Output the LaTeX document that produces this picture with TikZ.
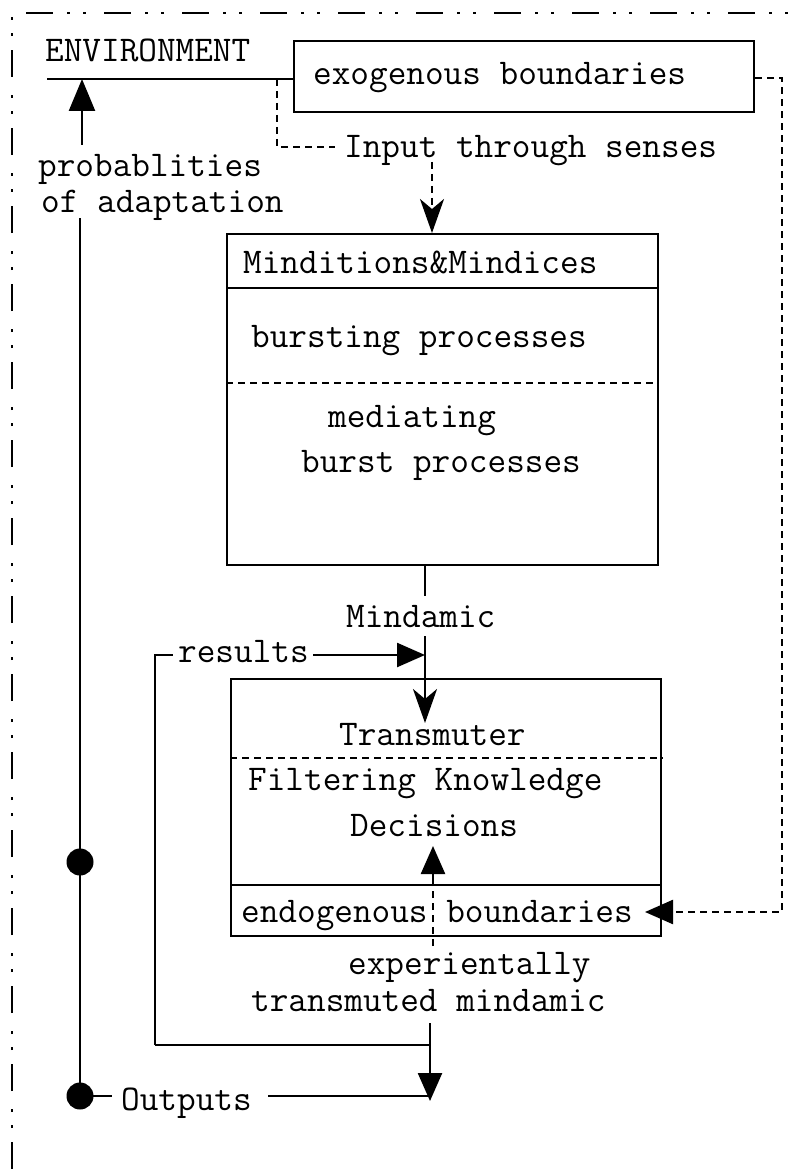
\documentclass[tikz,border=0pt]{standalone}
\usepackage{fontspec}
\usetikzlibrary{arrows.meta}
\begin{document}
\begin{tikzpicture}[x=1pt,y=-1pt,line width=2.4pt,
  txt/.style={anchor=base west,inner sep=0pt,font=\ttfamily\fontsize{36.2}{40}\selectfont},
  boxnode/.style={draw,line width=2.4pt,inner sep=0pt,anchor=north west},
  dsh/.style={dash pattern=on 7pt off 5pt},
  framestyle/.style={line width=2.4pt,dash pattern=on 27pt off 14pt on 3pt off 13pt on 3pt off 18pt},
  tri/.style={-{Triangle[length=32pt,width=26pt]}},
  trismall/.style={-{Triangle[length=28pt,width=24pt]}},
  stl/.style={-{Stealth[length=34pt,width=24pt,inset=10pt]}},
  dot/.style={circle,fill=black,minimum size=27pt,inner sep=0pt}
]
\useasboundingbox (0,0) rectangle (799,1169);

% outer frame
\coordinate (frTR) at (799,13);
\coordinate (frTL) at (12,13);
\coordinate (frBL) at (12,1169);
\draw[framestyle] (frBL) -- (frTL) -- (frTR);

% boxes
\node[boxnode,minimum width=460pt,minimum height=71pt] (exo) at (293,40) {};
\node[boxnode,minimum width=431pt,minimum height=331pt] (mind) at (226,233) {};
\node[boxnode,minimum width=430pt,minimum height=257pt] (trans) at (230,678) {};

% dividers
\draw (mind.west |- 0,288) -- (mind.east |- 0,288);
\draw[dsh] (mind.west |- 0,383) -- (mind.east |- 0,383);
\draw[dsh] (trans.west |- 0,758) -- (trans.east |- 0,758);
\draw (trans.west |- 0,885) -- (trans.east |- 0,885);

% texts
\node[txt] (env) at (44,62) {ENVIRONMENT};
\node[txt] (exot) at (312,85) {exogenous boundaries};
\node[txt] (input) at (343,158) {Input through senses};
\node[txt] (prob1) at (37,177) {probablities};
\node[txt] (prob2) at (40,212) {of adaptation};
\node[txt] (mindt) at (242,273) {Minditions\&Mindices};
\node[txt] (burst) at (250,347) {bursting processes};
\node[txt] (medi) at (327,427) {mediating};
\node[txt] (bp) at (300,472) {burst processes};
\node[txt] (mindamic) at (345,627) {Mindamic};
\node[txt] (results) at (177,662) {results};
\node[txt] (transt) at (338,745) {Transmuter};
\node[txt] (filt) at (247,790) {Filtering Knowledge};
\node[txt] (dec) at (349,836) {Decisions};
\node[txt] (endo) at (240,922) {endogenous boundaries};
\node[txt] (exper) at (347,974) {experientally};
\node[txt] (transm) at (250,1011) {transmuted mindamic};
\node[txt] (outputs) at (120,1110) {Outputs};

% dots
\node[dot] (dotA) at (80,862) {};
\node[dot] (dotB) at (80,1096) {};

% environment line and probability arrow
\coordinate (envL) at (47,79);
\draw (envL) -- (exo.west |- envL);
\coordinate (pa) at (82,145);
\draw[tri] (pa) -- (pa |- envL);

% left vertical line
\coordinate (vtop) at (80,218);
\draw (vtop) -- (dotA.center) -- (dotB.center);

% input dashed path
\coordinate (d1) at (277,79);
\coordinate (d2) at (277,147);
\coordinate (d3) at (335,147);
\draw[dsh] (d1) -- (d2) -- (d3);
\coordinate (ia) at (432,162);
\draw[dsh,stl] (ia) -- (ia |- mind.north);

% right dashed feedback to endogenous boundaries
\coordinate (r1) at (782,78);
\coordinate (r2) at (782,912);
\coordinate (r3) at (673,912);
\coordinate (r4) at (645,912);
\draw[dsh] (exo.east |- r1) -- (r1) -- (r2) -- (r3);
\draw[trismall] (r3) -- (r4);

% mindamic
\coordinate (m1) at (425,596);
\coordinate (m2) at (425,636);
\coordinate (m3) at (425,723);
\draw (m1 |- mind.south) -- (m1);
\draw[stl] (m2) -- (m3);

% results loop
\coordinate (rs1) at (155,1045);
\coordinate (rs2) at (155,655);
\coordinate (rs3) at (173,655);
\coordinate (rs4) at (313,655);
\coordinate (rs5) at (425,655);
\draw (rs1) -- (rs2) -- (rs3);
\draw[trismall] (rs4) -- (rs5);

% up arrow through endogenous boundaries
\coordinate (u1) at (433,946);
\coordinate (u2) at (433,886);
\coordinate (u3) at (433,846);
\draw[dsh] (u1) -- (u2);
\draw[trismall] (u2) -- (u3);

% lower outputs
\coordinate (o1) at (430,1023);
\coordinate (o2) at (430,1045);
\coordinate (o3) at (430,1101);
\draw (rs1) -- (o2);
\draw[trismall] (o1) -- (o3);
\coordinate (op1) at (112,1096);
\coordinate (op2) at (268,1096);
\coordinate (op3) at (430,1096);
\draw (dotB.center) -- (op1);
\draw (op2) -- (op3);
\end{tikzpicture}
\end{document}
